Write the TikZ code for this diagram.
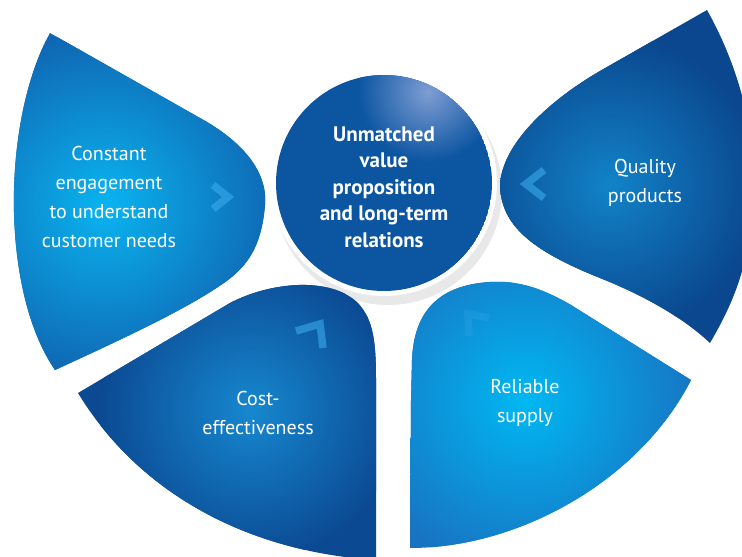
\documentclass[tikz,border=0pt]{standalone}
\usepackage{fontspec}
\setmainfont{PT Sans}
\definecolor{engagelight}{HTML}{0AB4F0}
\definecolor{engagedark}{HTML}{0F66B2}
\definecolor{costlight}{HTML}{1688CF}
\definecolor{costdark}{HTML}{0B4A93}
\definecolor{supplylight}{HTML}{00B8F2}
\definecolor{supplydark}{HTML}{1873C2}
\definecolor{qualitylight}{HTML}{1283C8}
\definecolor{qualitydark}{HTML}{0A478E}
\definecolor{hubblue}{HTML}{0B55A1}
\definecolor{hubglow}{HTML}{7F9DD3}
\definecolor{chevblue}{HTML}{3AAAEC}

% petal outlines, in pixels of the page (y downwards)
\newcommand{\engagepath}{(50,33) -- (200,118) .. controls (240,140) and (268,170) .. (265,205)
  .. controls (262,240) and (252,262) .. (228,280) .. controls (190,308) and (120,340) .. (55,370)
  .. controls (0,290) and (2,120) .. cycle}
\newcommand{\costpath}{(78,393) -- (230,303) .. controls (270,282) and (330,276) .. (358,303)
  .. controls (374,320) and (376,345) .. (376,380) -- (376,560)
  .. controls (250,552) and (140,495) .. cycle}
\newcommand{\supplypath}{(410,548) -- (411,400) -- (412,360) .. controls (414,310) and (440,285) .. (490,282)
  .. controls (520,280) and (545,290) .. (571,305) -- (691,380)
  .. controls (640,480) and (520,548) .. cycle}
\newcommand{\qualitypath}{(707,10) -- (600,71) .. controls (540,106) and (500,150) .. (500,187)
  .. controls (502,225) and (530,250) .. (600,278) .. controls (640,294) and (680,315) .. (710,343)
  .. controls (735,300) and (752,260) .. (754,185) .. controls (754,120) and (735,60) .. cycle}

\begin{document}
\begin{tikzpicture}[
    x=1pt, y=-1pt,
    petaltext/.style={
      text=white,
      align=center,
      font=\fontsize{20}{29}\selectfont,
    },
    hubtext/.style={
      petaltext,
      font=\bfseries\fontsize{21}{26.5}\selectfont,
    },
    chevron/.style={
      draw=chevblue,
      line width=7.5pt,
      opacity=0.6,
    },
    ]
    \useasboundingbox (0,0) rectangle (742,557);
    \clip (0,0) rectangle (742,557);

    % shadow under the hub
    \fill[black!9] (388,191) circle (114);

    \begin{scope}
      \clip \engagepath;
      \fill[engagedark] (0,0) rectangle (742,557);
      \shade[inner color=engagelight, outer color=engagedark] (105,205) circle (175);
    \end{scope}
    \begin{scope}
      \clip \costpath;
      \fill[costdark] (0,0) rectangle (742,557);
      \shade[inner color=costlight, outer color=costdark] (250,410) circle (150);
    \end{scope}
    \begin{scope}
      \clip \supplypath;
      \fill[supplydark] (0,0) rectangle (742,557);
      \shade[inner color=supplylight, outer color=supplydark] (525,400) circle (175);
    \end{scope}
    \begin{scope}
      \clip \qualitypath;
      \fill[qualitydark] (0,0) rectangle (742,557);
      \shade[inner color=qualitylight, outer color=qualitydark] (610,185) circle (150);
    \end{scope}

    % hub
    \fill[white] (384,183) circle (113);
    \begin{scope}
      \clip (384,183) circle (108);
      \fill[hubblue] (384,183) circle (108);
      \shade[inner color=hubglow, outer color=hubblue] (428,92) circle (70);
    \end{scope}

    \draw[chevron] (213,185) -- (228,197) -- (213,209);
    \draw[chevron] (544,170) -- (526,184) -- (544,198);
    \draw[chevron] (296,331) -- (320,324) -- (323,348);
    \draw[chevron, opacity=0.25] (489,318) -- (468,314) -- (469,336);

    \node[hubtext] (hub) at (384,187) {Unmatched\\value\\proposition\\and long-term\\relations};
    \node[petaltext] (engage) at (109,197) {Constant\\engagement\\to understand\\customer needs};
    \node[petaltext] (quality) at (645,183) {Quality\\products};
    \node[petaltext] (cost) at (258,413) {Cost-\\effectiveness};
    \node[petaltext] (supply) at (525,403) {Reliable\\supply};
  \end{tikzpicture}
\end{document}
